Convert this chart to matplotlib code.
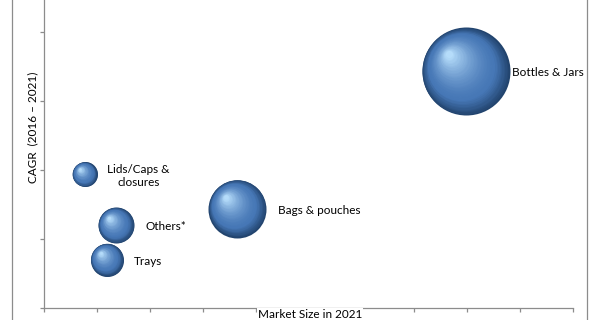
import numpy as np
import matplotlib
matplotlib.use("Agg")
import matplotlib.pyplot as plt
from matplotlib.transforms import offset_copy
from matplotlib.lines import Line2D
from matplotlib.colors import to_rgb

plt.rcParams['font.family'] = ['Lato', 'DejaVu Sans']

# data (axis has no tick labels: units are tick steps)
segments = ["Lids/Caps &\nclosures", "Others*", "Trays", "Bags & pouches", "Bottles & Jars"]
market_size = [0.77, 1.36, 1.19, 3.65, 7.97]
cagr = [1.94, 1.20, 0.70, 1.44, 3.43]
bubble_diam = [25, 36, 33, 58, 88]   # relative bubble size
label_dx = [54, 30, 27, 41, 46]      # label offset from bubble centre, px

W, H, DPI = 600, 320, 100
fig = plt.figure(figsize=(W / DPI, H / DPI), dpi=DPI)
ax = fig.add_axes([44 / W, 12 / H, 529 / W, 345 / H])
ax.set_xlim(0, 10)
ax.set_ylim(0, 5)

grey = "#8c8c8c"
for side in ["top", "right"]:
    ax.spines[side].set_visible(False)
for side in ["left", "bottom"]:
    ax.spines[side].set_color(grey)
    ax.spines[side].set_linewidth(0.9)
ax.set_xticks(np.arange(0, 11, 1))
ax.set_yticks(np.arange(0, 6, 1))
ax.tick_params(colors=grey, length=3, width=0.9, labelleft=False, labelbottom=False)

# fake 3D sphere: stacked circles getting lighter and shifting to upper-left
dark = np.array(to_rgb("#22446e"))
mid = np.array(to_rgb("#4677b6"))
light = np.array(to_rgb("#b5dcfa"))
pt = 72 / DPI
n = 40
for x, y, d in zip(market_size, cagr, bubble_diam):
    r = d / 2
    for k in range(n):
        t = k / (n - 1)
        f = 1 - 0.92 * t
        if t < 0.25:
            c = dark + (mid - dark) * (t / 0.25)
        else:
            c = mid + (light - mid) * ((t - 0.25) / 0.75) ** 1.6
        off = (1 - f) * r * 0.42
        tr = offset_copy(ax.transData, fig=fig, x=-off, y=off, units='dots')
        ax.scatter([x], [y], s=(d * f * pt) ** 2, color=c, lw=0, transform=tr, zorder=3)

for name, x, y, dx in zip(segments, market_size, cagr, label_dx):
    ha = "center" if "\n" in name else "left"
    ax.annotate(name, (x, y), xytext=(dx * pt, -1.5 * pt), textcoords="offset points",
                ha=ha, va="center", fontsize=8.5, color="#000000", zorder=4,
                multialignment="center")

fig.text(310 / W, 0.0 / H, "Market Size in 2021", ha="center", va="bottom",
         fontsize=8.5, color="#000000", zorder=5,
         bbox=dict(facecolor="white", edgecolor="none", pad=0.6))
fig.text(33 / W, 1 - 127 / H, "CAGR  (2016 \u2013 2021)", ha="center", va="center",
         rotation=90, fontsize=8.5, color="#000000")

# outer frame lines
fig.add_artist(Line2D([12 / W, 12 / W], [0, 1], color=grey, lw=0.9))
fig.add_artist(Line2D([587 / W, 587 / W], [0, 1], color=grey, lw=0.9))

fig.savefig("out.png", dpi=DPI)
